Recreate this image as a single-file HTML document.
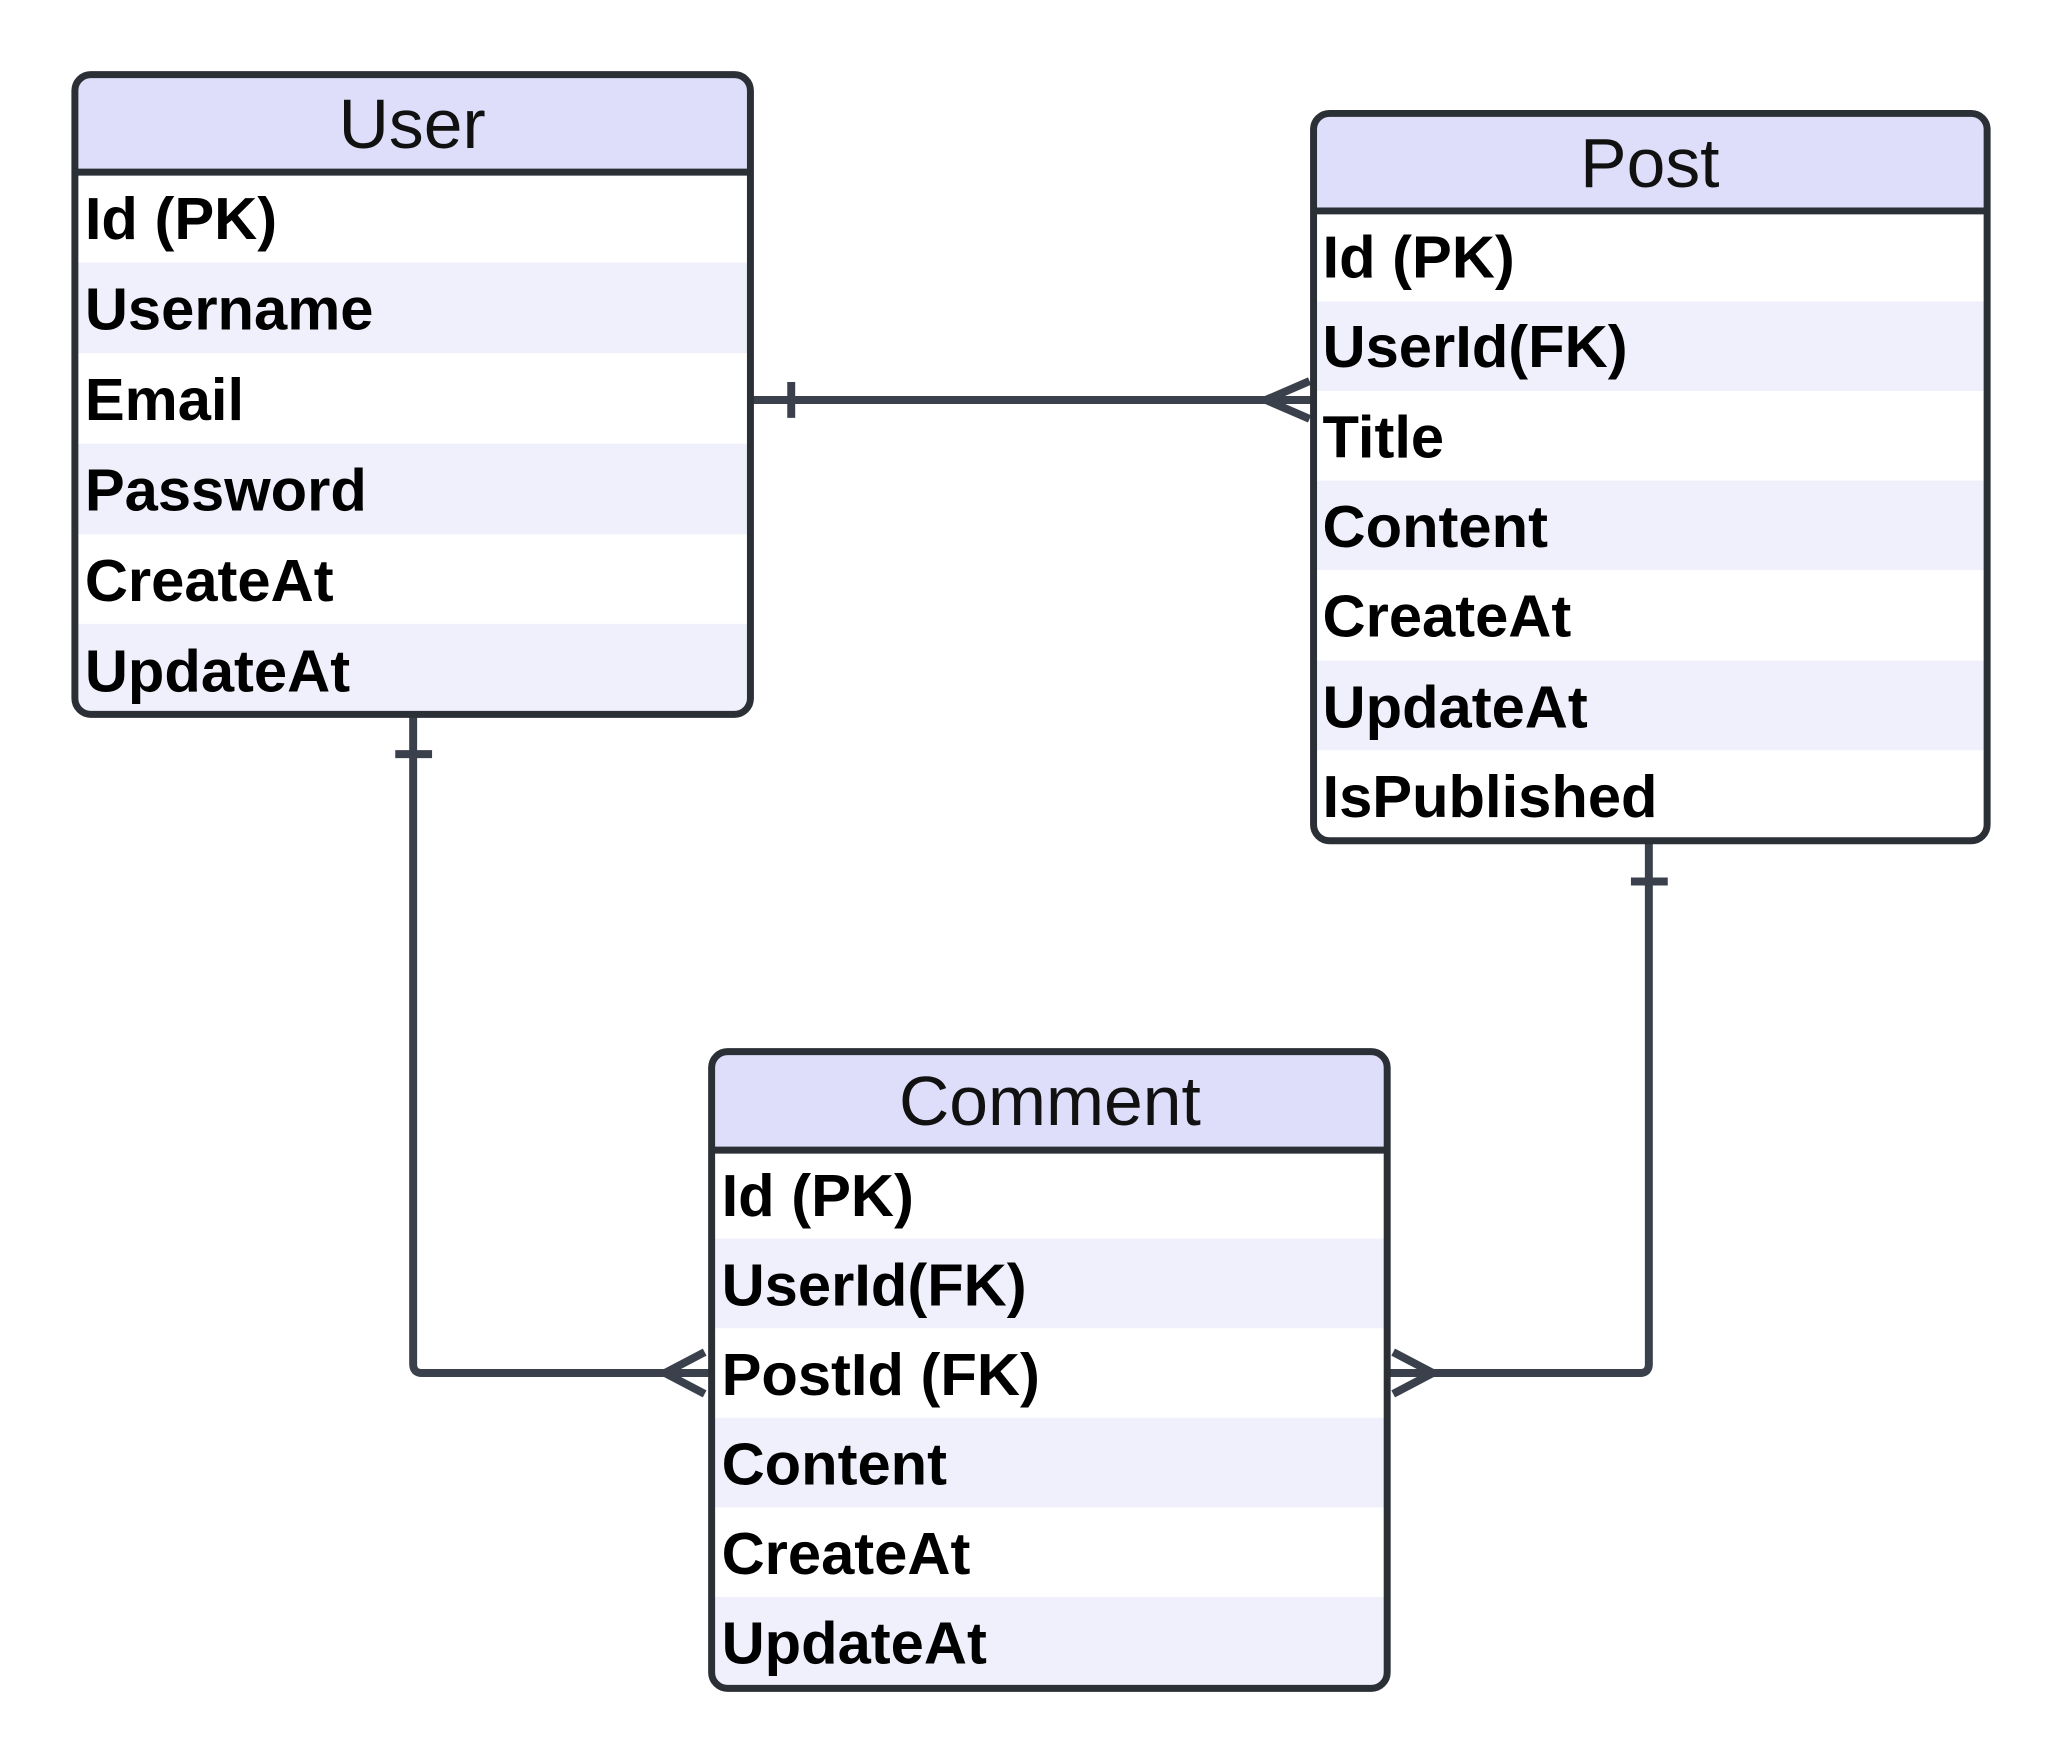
<!DOCTYPE html>
<html><head><meta charset="utf-8"><style>
html,body{margin:0;padding:0;background:#fff;}
svg{display:block;}
.t{font-family:"Liberation Sans",sans-serif;font-size:70px;fill:#111;}
.r{font-family:"Liberation Sans",sans-serif;font-size:60px;font-weight:bold;fill:#000;}
</style></head><body>
<svg width="2063" height="1764" viewBox="0 0 2073 1773" xmlns="http://www.w3.org/2000/svg">
<g stroke="#3b414c" stroke-width="8" fill="none" stroke-linejoin="round">
<path d="M754 402 H1318"/><path d="M795 384 V420"/>
<path d="M1272 402 L1316 383 M1272 402 L1316 421"/>
<path d="M415 718 V1371 Q415 1380 424 1380 H712"/><path d="M397 758 H434"/>
<path d="M668 1380 L708 1359 M668 1380 L708 1401"/>
<path d="M1657 845 V1371 Q1657 1380 1648 1380 H1396"/><path d="M1639 886 H1676"/>
<path d="M1440 1380 L1400 1359 M1440 1380 L1400 1401"/>
</g>
<!-- User -->
<g>
<rect x="75" y="75" width="679" height="643" rx="16" fill="#fff"/>
<rect x="75" y="75" width="679" height="98" fill="#dedefa" rx="16"/>
<rect x="75" y="140" width="679" height="33" fill="#dedefa"/>
<rect x="75" y="264" width="679" height="91" fill="#f0f0fc"/>
<rect x="75" y="446" width="679" height="91" fill="#f0f0fc"/>
<path d="M75 627 H754 V702 Q754 718 738 718 H91 Q75 718 75 702 Z" fill="#f0f0fc"/>
<rect x="75" y="75" width="679" height="643" rx="16" fill="none" stroke="#2b2f36" stroke-width="7"/>
<line x1="75" y1="173" x2="754" y2="173" stroke="#2b2f36" stroke-width="7"/>
<text class="t" x="414" y="149" text-anchor="middle">User</text>
<text class="r" x="85" y="240">Id (PK)</text>
<text class="r" x="85" y="331">Username</text>
<text class="r" x="85" y="422">Email</text>
<text class="r" x="85" y="513">Password</text>
<text class="r" x="85" y="604">CreateAt</text>
<text class="r" x="85" y="695">UpdateAt</text>
</g>
<!-- Post -->
<g>
<rect x="1320" y="114" width="677" height="731" rx="16" fill="#fff"/>
<rect x="1320" y="114" width="677" height="98" fill="#dedefa" rx="16"/>
<rect x="1320" y="180" width="677" height="32" fill="#dedefa"/>
<rect x="1320" y="303" width="677" height="90" fill="#f0f0fc"/>
<rect x="1320" y="483" width="677" height="90" fill="#f0f0fc"/>
<rect x="1320" y="664" width="677" height="90" fill="#f0f0fc"/>
<rect x="1320" y="114" width="677" height="731" rx="16" fill="none" stroke="#2b2f36" stroke-width="7"/>
<line x1="1320" y1="212" x2="1997" y2="212" stroke="#2b2f36" stroke-width="7"/>
<text class="t" x="1658" y="188" text-anchor="middle">Post</text>
<text class="r" x="1329" y="279">Id (PK)</text>
<text class="r" x="1329" y="369">UserId(FK)</text>
<text class="r" x="1329" y="460">Title</text>
<text class="r" x="1329" y="550">Content</text>
<text class="r" x="1329" y="640">CreateAt</text>
<text class="r" x="1329" y="731">UpdateAt</text>
<text class="r" x="1329" y="821">IsPublished</text>
</g>
<!-- Comment -->
<g>
<rect x="715" y="1057" width="679" height="640" rx="16" fill="#fff"/>
<rect x="715" y="1057" width="679" height="99" fill="#dedefa" rx="16"/>
<rect x="715" y="1120" width="679" height="36" fill="#dedefa"/>
<rect x="715" y="1245" width="679" height="90" fill="#f0f0fc"/>
<rect x="715" y="1425" width="679" height="90" fill="#f0f0fc"/>
<path d="M715 1605 H1394 V1681 Q1394 1697 1378 1697 H731 Q715 1697 715 1681 Z" fill="#f0f0fc"/>
<rect x="715" y="1057" width="679" height="640" rx="16" fill="none" stroke="#2b2f36" stroke-width="7"/>
<line x1="715" y1="1156" x2="1394" y2="1156" stroke="#2b2f36" stroke-width="7"/>
<text class="t" x="1055" y="1131" text-anchor="middle">Comment</text>
<text class="r" x="725" y="1222">Id (PK)</text>
<text class="r" x="725" y="1312">UserId(FK)</text>
<text class="r" x="725" y="1402">PostId (FK)</text>
<text class="r" x="725" y="1492">Content</text>
<text class="r" x="725" y="1582">CreateAt</text>
<text class="r" x="725" y="1672">UpdateAt</text>
</g>
</svg>
</body></html>
